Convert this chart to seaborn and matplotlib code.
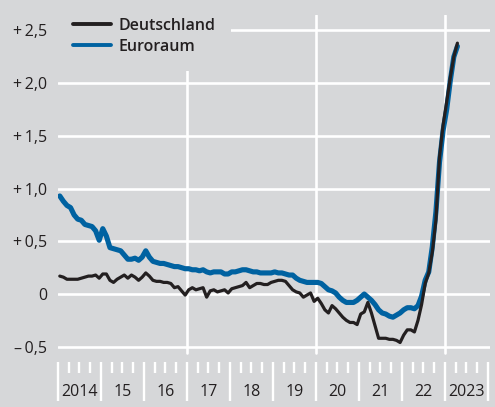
#!/usr/bin/env python3

# Line chart: Deutschland vs Euroraum, monthly values Jan 2014 - Apr 2023
import numpy as np
import pandas as pd
import matplotlib
matplotlib.use("Agg")
import matplotlib.pyplot as plt
import matplotlib.transforms as mtransforms
from matplotlib.ticker import MultipleLocator
import seaborn as sns

# monthly values (Jan 2014 ... Apr 2023)
deutschland = [
    0.17, 0.16, 0.14, 0.14, 0.14, 0.14, 0.15, 0.16, 0.17, 0.17, 0.18, 0.15,
    0.19, 0.19, 0.13, 0.11, 0.14, 0.16, 0.18, 0.15, 0.18, 0.16, 0.13, 0.16,
    0.20, 0.17, 0.13, 0.12, 0.12, 0.11, 0.11, 0.10, 0.06, 0.07, 0.03, -0.01,
    0.04, 0.06, 0.04, 0.05, 0.06, -0.03, 0.03, 0.04, 0.02, 0.03, 0.04, 0.01,
    0.05, 0.06, 0.07, 0.08, 0.11, 0.06, 0.08, 0.10, 0.10, 0.09, 0.09, 0.11,
    0.12, 0.13, 0.13, 0.12, 0.08, 0.04, 0.02, 0.01, -0.03, -0.01, 0.01, -0.07,
    -0.04, -0.09, -0.15, -0.18, -0.11, -0.14, -0.18, -0.22, -0.25, -0.27, -0.27, -0.29,
    -0.19, -0.17, -0.08, -0.18, -0.30, -0.42, -0.42, -0.42, -0.43, -0.43, -0.44, -0.46,
    -0.39, -0.34, -0.34, -0.36, -0.25, -0.10, 0.10, 0.20, 0.40, 0.70, 1.30, 1.60,
    1.82, 2.05, 2.25, 2.38,
]
euroraum = [
    0.93, 0.88, 0.84, 0.82, 0.75, 0.71, 0.70, 0.66, 0.65, 0.64, 0.60, 0.51,
    0.62, 0.55, 0.44, 0.43, 0.42, 0.41, 0.37, 0.33, 0.33, 0.34, 0.32, 0.35,
    0.41, 0.35, 0.31, 0.30, 0.29, 0.29, 0.28, 0.27, 0.26, 0.26, 0.25, 0.24,
    0.24, 0.23, 0.23, 0.22, 0.23, 0.21, 0.20, 0.21, 0.21, 0.21, 0.19, 0.19,
    0.21, 0.21, 0.22, 0.23, 0.23, 0.22, 0.21, 0.21, 0.20, 0.20, 0.20, 0.20,
    0.21, 0.20, 0.20, 0.19, 0.18, 0.18, 0.15, 0.13, 0.12, 0.11, 0.11, 0.11,
    0.11, 0.10, 0.07, 0.04, 0.03, 0.01, -0.03, -0.06, -0.08, -0.08, -0.08, -0.06,
    -0.03, 0.00, -0.03, -0.06, -0.10, -0.15, -0.18, -0.19, -0.21, -0.22, -0.20, -0.18,
    -0.15, -0.13, -0.13, -0.14, -0.11, -0.02, 0.13, 0.21, 0.45, 0.78, 1.25, 1.55,
    1.75, 2.02, 2.25, 2.35,
]
start_year = 2014
year_labels = ["2014", "15", "16", "17", "18", "19", "20", "21", "22", "2023"]
y_ticks = [-0.5, 0.0, 0.5, 1.0, 1.5, 2.0, 2.5]
y_tick_labels = ["\u2013\u20090,5", "0", "+\u20090,5", "+\u20091,0",
                 "+\u20091,5", "+\u20092,0", "+\u20092,5"]
v_lines = [2017, 2020, 2023]

bg = "#d6d7d9"
black = "#231f20"
blue = "#0062a1"
text_col = "#231f20"

months = start_year + (np.arange(len(euroraum)) + 0.5) / 12
df = pd.DataFrame({"t": months, "Deutschland": deutschland, "Euroraum": euroraum})

sns.set_theme(style="white")
plt.rcParams["font.family"] = ["Open Sans", "DejaVu Sans"]

fig = plt.figure(figsize=(4.95, 4.07), dpi=100, facecolor=bg)
ax = fig.add_axes([58 / 495, 45 / 407, 432 / 495, 347 / 407])
ax.set_facecolor(bg)

ymin, ymax = -0.645, 2.647
ax.set_ylim(ymin, ymax)
ax.set_xlim(start_year, 2024.05)

# white grid
for v in y_ticks:
    ax.axhline(v, color="white", lw=1.9, zorder=1)
for yr in v_lines:
    ax.axvline(yr, ymin=(-0.56 - ymin) / (ymax - ymin), ymax=1, color="white", lw=1.9, zorder=1)

sns.lineplot(data=df, x="t", y="Euroraum", color=blue, lw=3.7, ax=ax,
             label="Euroraum", zorder=3)
sns.lineplot(data=df, x="t", y="Deutschland", color=black, lw=2.3, ax=ax,
             label="Deutschland", zorder=4)

for s in ax.spines.values():
    s.set_visible(False)
ax.set_xlabel("")
ax.set_ylabel("")

# y axis labels
ax.set_yticks(y_ticks)
ax.set_yticklabels(y_tick_labels)
ax.tick_params(axis="y", length=0, pad=8, labelsize=11.5, labelcolor=text_col)

# x axis: white year and quarter ticks, labels centred in the year
ax.set_xticks(range(start_year, 2025))
ax.xaxis.set_minor_locator(MultipleLocator(0.25))
ax.tick_params(axis="x", which="major", bottom=True, direction="out", length=28,
               width=1.7, color="white", labelbottom=False)
ax.tick_params(axis="x", which="minor", bottom=True, direction="out", length=8,
               width=1.7, color="white", labelbottom=False)
trans = mtransforms.blended_transform_factory(ax.transData, ax.transAxes)
for i, lab in enumerate(year_labels):
    ax.text(start_year + i + 0.5, -0.0865, lab, transform=trans, ha="center",
            va="center", fontsize=11.5, color=text_col)

# legend, Deutschland first, with opaque background over the grid
h, l = ax.get_legend_handles_labels()
order = [l.index("Deutschland"), l.index("Euroraum")]
leg = ax.legend([h[i] for i in order], [l[i] for i in order],
                loc="upper left", bbox_to_anchor=(57 / 495, 1 - 2 / 407),
                bbox_transform=fig.transFigure, frameon=True, facecolor=bg,
                edgecolor="none", framealpha=1, fancybox=False, borderpad=1.0,
                borderaxespad=0, handlelength=2.4, handletextpad=0.45,
                labelspacing=0.32, prop={"size": 11.5, "weight": "semibold"})
for line in leg.get_lines():
    line.set_linewidth(2.8)
for t in leg.get_texts():
    t.set_color(text_col)
leg.set_zorder(5)

plt.savefig("out.png", dpi=100, facecolor=bg)
